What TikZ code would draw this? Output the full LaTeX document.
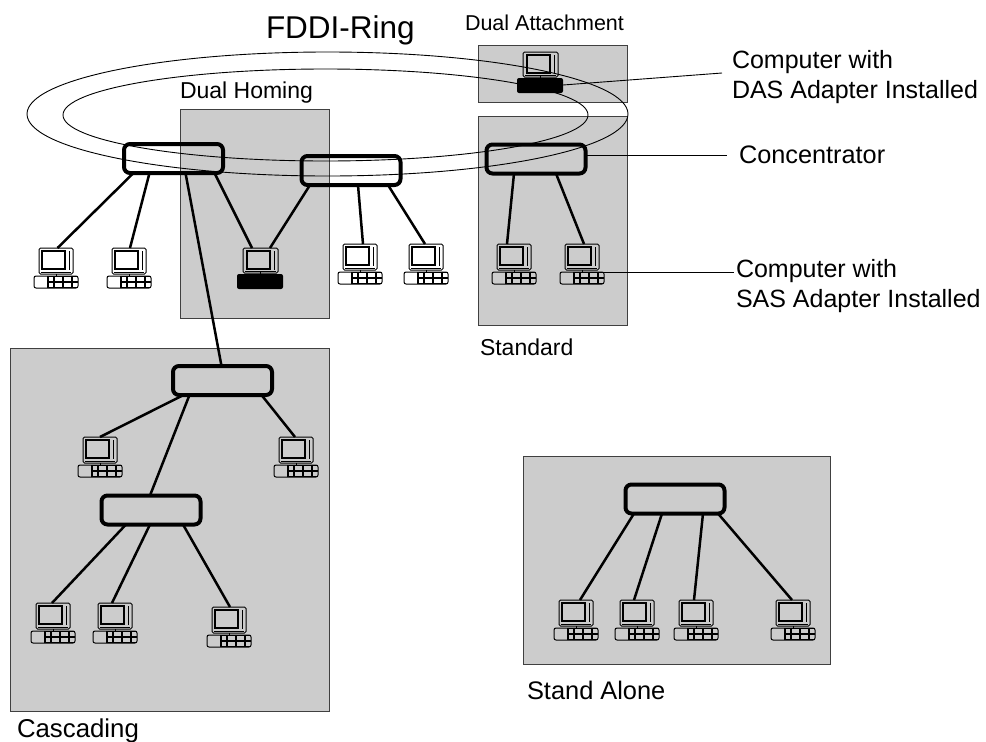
\documentclass[tikz,border=0pt]{standalone}
\usepackage{fontspec}
\usetikzlibrary{shapes.geometric}
\setmainfont{Liberation Sans}
\tikzset{
  every node/.style={inner sep=0pt,outer sep=0pt},
  zone/.style={draw=black!75,line width=0.7pt,fill=black!20},
  conc/.style={draw=black,line width=4pt,rounded corners=6pt,minimum width=99pt,minimum height=29pt},
  link/.style={line width=2.5pt},
  thin lead/.style={line width=0.9pt},
  ringline/.style={line width=0.9pt},
  lab/.style={anchor=west,font=\fontsize{25}{30}\selectfont,align=left},
  labsmall/.style={lab,font=\fontsize{23}{28}\selectfont},
  pcbox/.style={minimum width=44pt,minimum height=40pt,anchor=north west},
}
\newcommand{\pcsas}[3]{%
  \node[pcbox] (#1) at (#2,#3) {};
  \begin{scope}[shift={(#2,#3)}]
    \draw[line width=1pt,rounded corners=1.5pt] (5,0) rectangle (39,26);
    \draw[line width=1.6pt] (8,3) rectangle (31,21);
    \draw[line width=1pt] (35,3) -- (35,22) (7,24) -- (37,24);
    \draw[line width=1pt] (22,26) -- (22,28);
    \draw[line width=1pt,rounded corners=2pt] (0,28) rectangle (44,40);
    \draw[line width=1.6pt] (14,28) -- (14,40) (14,34) -- (44,34) (20,29) -- (20,40) (29,29) -- (29,40) (38,29) -- (38,40) (14,39.5) -- (44,39.5) (14,28.5) -- (44,28.5);
  \end{scope}}
\newcommand{\pcdas}[3]{%
  \node[pcbox,minimum width=46pt,minimum height=41pt] (#1) at (#2,#3) {};
  \begin{scope}[shift={(#2,#3)}]
    \draw[line width=1pt,rounded corners=1.5pt] (6,0) rectangle (41,25);
    \draw[line width=1.6pt] (10,3) rectangle (33,21);
    \draw[line width=1pt] (37,3) -- (37,22) (8,23) -- (39,23);
    \draw[line width=1pt] (23,24) -- (23,27);
    \fill[black,rounded corners=2pt] (0,26) rectangle (46,41);
  \end{scope}}
\begin{document}
\begin{tikzpicture}[x=1pt,y=-1pt]
\useasboundingbox (0,0) rectangle (986,742);
% zones
\draw[zone] (478,45) rectangle (627,102);
\draw[zone] (478,116) rectangle (627,325);
\draw[zone] (180,109) rectangle (329,318);
\draw[zone] (10,348) rectangle (329,711);
\draw[zone] (523,456) rectangle (830,664);
% labels
\node[lab,font=\fontsize{31.5}{36}\selectfont] (title) at (266,30) {FDDI-Ring};
\node[labsmall,font=\fontsize{21.5}{26}\selectfont] (ldual) at (465,23) {Dual Attachment};
\node[labsmall] (lhoming) at (180,93) {Dual Homing};
\node[lab] (ldas) at (732,77.5) {Computer with\\DAS Adapter Installed};
\node[lab,font=\fontsize{25.3}{30}\selectfont] (lconc) at (739,155) {Concentrator};
\node[lab] (lsas) at (736,286.5) {Computer with\\SAS Adapter Installed};
\node[labsmall] (lstd) at (480,347) {Standard};
\node[lab,font=\fontsize{25.8}{30}\selectfont] (lcasc) at (17,730.5) {Cascading};
\node[lab,font=\fontsize{25.4}{30}\selectfont] (lalone) at (527,690) {Stand Alone};
% concentrators
\node[conc] (c1) at (173.5,158.5) {};
\node[conc] (c2) at (351,170.5) {};
\node[conc] (c3) at (536,159) {};
\node[conc] (c4) at (222.5,380.5) {};
\node[conc] (c5) at (151,510) {};
\node[conc] (c6) at (675,499) {};
% computers
\pcsas{p1}{34}{248}
\pcsas{p2}{107}{248}
\pcdas{p3}{237}{248}
\pcsas{p4}{338}{244}
\pcsas{p5}{404}{244}
\pcsas{p6}{492}{244}
\pcsas{p7}{560}{244}
\pcdas{pd}{517}{52}
\pcsas{p8}{78}{437}
\pcsas{p9}{274}{437}
\pcsas{p10}{31}{603}
\pcsas{p11}{93}{603}
\pcsas{p12}{207}{607}
\pcsas{p13}{554}{600}
\pcsas{p14}{615}{600}
\pcsas{p15}{674}{600}
\pcsas{p16}{771}{600}
% rings
\node[draw,ringline,ellipse,minimum width=601pt,minimum height=124pt] (ringA) at (327.5,114) {};
\node[draw,ringline,ellipse,minimum width=525pt,minimum height=92pt] (ringB) at (325.5,115) {};
% connectors
\draw[link] ([xshift=-40]c1.south) -- ([xshift=1.5]p1.north);
\draw[link] ([xshift=-24]c1.south) -- ([xshift=1]p2.north);
\draw[link] ([xshift=12]c1.south) -- ([xshift=-1]c4.north);
\draw[link] ([xshift=41]c1.south) -- ([xshift=-8]p3.north);
\draw[link] ([xshift=-41]c2.south) -- ([xshift=10]p3.north);
\draw[link] ([xshift=7]c2.south) -- ([xshift=3]p4.north);
\draw[link] ([xshift=37]c2.south) -- ([xshift=-1]p5.north);
\draw[link] ([xshift=-22]c3.south) -- ([xshift=-7]p6.north);
\draw[link] ([xshift=20]c3.south) -- ([xshift=2]p7.north);
\draw[link] ([xshift=-33]c4.south) -- ([xshift=-1]c5.north);
\draw[link] ([xshift=-39]c4.south) -- (p8.north);
\draw[link] ([xshift=39]c4.south) -- ([xshift=-1]p9.north);
\draw[link] ([xshift=-25]c5.south) -- ([xshift=-1]p10.north);
\draw[link] ([xshift=-1]c5.south) -- ([xshift=-3]p11.north);
\draw[link] ([xshift=32]c5.south) -- ([xshift=1]p12.north);
\draw[link] ([xshift=-41]c6.south) -- ([xshift=4]p13.north);
\draw[link] ([xshift=-13]c6.south) -- ([xshift=-3]p14.north);
\draw[link] ([xshift=28]c6.south) -- ([xshift=-2]p15.north);
\draw[link] ([xshift=43]c6.south) -- ([xshift=-1]p16.north);
% leader lines
\coordinate (ldasin) at (722,73);
\coordinate (lconcin) at (727,155);
\coordinate (lsasin) at (734,272);
\draw[thin lead] ([yshift=-12.5]pd.east) -- (ldasin);
\draw[thin lead] (c3.east |- lconcin) -- (lconcin);
\draw[thin lead] ([yshift=-8]p7.east) -- (lsasin);
\end{tikzpicture}
\end{document}
